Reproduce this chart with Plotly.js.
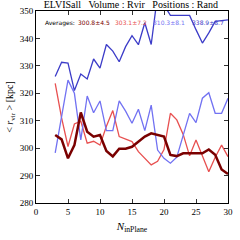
<!DOCTYPE html>
<html><head><meta charset="utf-8">
<script src="https://cdn.plot.ly/plotly-3.0.1.min.js"></script>
<style>html,body{margin:0;padding:0;background:#fff;}#c{width:240px;height:240px;}</style>
</head><body><div id="c"></div>
<script>
const nInPlane = [3,4,5,6,7,8,9,10,11,12,13,14,15,16,17,18,19,20,21,22,23,24,25,26,27,28,29,30];
const darkRed = [304.8,303.2,296.3,301.1,313.0,306.0,304.2,304.8,299.0,297.0,299.8,299.8,300.5,302.3,304.2,305.4,304.8,304.2,297.5,297.1,298.1,298.1,298.1,298.1,299.5,297.6,292.2,290.6];
const red = [323.6,311.0,300.6,308.8,309.8,301.8,302.5,301.1,308.0,313.7,304.2,303.2,302.4,298.7,296.3,293.9,295.2,299.5,312.7,310.3,305.0,297.2,303.0,297.5,291.4,296.7,301.1,296.9];
const lightBlue = [298.3,311.0,324.8,320.0,303.0,319.0,312.9,317.2,306.4,306.4,317.2,313.5,309.1,314.2,306.4,315.7,299.3,296.3,294.5,296.7,304.4,312.7,309.3,318.2,320.2,312.7,312.7,318.2];
const blue = [326.1,331.3,331.0,321.0,327.0,325.2,332.5,329.2,337.8,335.4,331.5,337.0,341.0,337.7,345.7,337.8,356.0,352.0,348.4,348.4,348.4,348.4,343.2,338.3,342.0,346.2,346.5,346.8];
const avgLabels = ["300.8±4.5","303.1±7.2","310.3±8.1","338.9±8.7"];
const titleText = "ELVISall   Volume : Rvir   Positions : Rand";

const colors = ["#7a0000","#e85050","#7272f2","#3c3cc8"];
const widths = [2.5,1.3,1.3,1.3];
const series = [darkRed, red, lightBlue, blue];
const traces = series.map((s,i)=>({x:nInPlane, y:s, type:'scatter', mode:'lines',
  line:{color:colors[i], width:widths[i]}, hoverinfo:'skip', showlegend:false}));
const order = [1,2,3,0].map(i=>traces[i]);

const annX = [0.035,0.21,0.40,0.60,0.80];
const annotations = [{text:"Averages:", color:"#000"}].concat(avgLabels.map((t,i)=>({text:t,color:colors[i]})))
  .map((a,i)=>({xref:'paper', yref:'paper', x:annX[i], y:0.94, xanchor:'left', yanchor:'middle',
   text:a.text, showarrow:false, font:{family:'DejaVu Sans, sans-serif', size:6, color:a.color}}));

const serif = "Liberation Serif, DejaVu Serif, serif";
const axCommon = {showgrid:false, zeroline:false, showline:true, mirror:'ticks', linecolor:'#000', linewidth:1,
  ticks:'inside', ticklen:4, tickwidth:0.8, tickcolor:'#000', tickfont:{family:serif, size:9, color:'#000'}};

Plotly.newPlot('c', order, {
  width:240, height:240,
  margin:{l:36, r:12, t:11, b:37, pad:0},
  paper_bgcolor:'#fff', plot_bgcolor:'#fff',
  title:{text:titleText, font:{family:serif, size:10, color:'#000'}, x:0.545, xanchor:'center', y:0.995, yanchor:'top'},
  xaxis:Object.assign({}, axCommon, {range:[0,30], tickvals:[0,5,10,15,20,25,30],
    title:{text:"<i>N</i><sub>inPlane</sub>", font:{family:serif, size:11, color:'#000'}, standoff:6}}),
  yaxis:Object.assign({}, axCommon, {range:[280,350], tickvals:[280,290,300,310,320,330,340,350],
    title:{text:"&lt; <i>r</i><sub>vir</sub> &gt; [kpc]", font:{family:serif, size:10, color:'#000'}, standoff:4}}),
  annotations:annotations
}, {staticPlot:true, displayModeBar:false});
</script></body></html>
